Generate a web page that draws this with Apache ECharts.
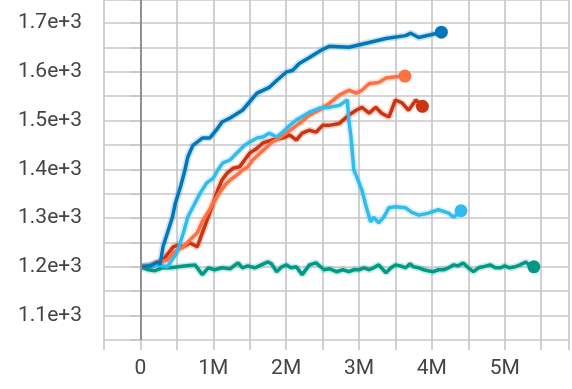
<!DOCTYPE html>
<html><head><meta charset="utf-8">
<script src="https://cdn.jsdelivr.net/npm/echarts@6/dist/echarts.min.js"></script>
<style>html,body{margin:0;padding:0;background:#fff}#c{width:572px;height:389px}</style>
</head><body><div id="c"></div>
<script>
// x values in millions of steps, y values
var darkBlueX = [0,0.14,0.23,0.27,0.31,0.44,0.48,0.55,0.61,0.65,0.72,0.85,0.95,1.04,1.12,1.23,1.40,1.60,1.77,1.87,2.00,2.09,2.18,2.32,2.48,2.59,2.86,3.14,3.37,3.64,3.71,3.82,4.13];
var darkBlueY = [1200,1202,1210,1205,1241,1302,1331,1364,1398,1425,1449,1464,1464,1480,1497,1505,1521,1556,1568,1582,1599,1603,1617,1629,1644,1652,1650,1660,1668,1674,1679,1670,1681];

var lightBlueX = [0,0.2,0.37,0.50,0.59,0.65,0.75,0.82,0.91,1.0,1.06,1.13,1.23,1.32,1.43,1.50,1.60,1.68,1.77,1.87,1.95,2.05,2.14,2.32,2.45,2.59,2.73,2.84,2.86,2.89,2.93,2.97,3.04,3.11,3.16,3.20,3.27,3.34,3.41,3.50,3.64,3.72,3.82,3.95,4.09,4.23,4.30,4.40];
var lightBlueY = [1200,1204,1200,1229,1270,1302,1331,1351,1372,1382,1398,1413,1419,1433,1449,1456,1464,1466,1474,1466,1476,1490,1501,1517,1525,1527,1531,1542,1501,1466,1398,1384,1357,1317,1292,1302,1290,1302,1321,1323,1321,1312,1306,1310,1317,1310,1302,1315];

var orangeX = [0,0.04,0.23,0.37,0.45,0.59,0.68,0.78,0.86,0.95,1.02,1.09,1.16,1.23,1.32,1.40,1.47,1.54,1.64,1.73,1.81,1.91,2.00,2.09,2.18,2.32,2.45,2.59,2.73,2.86,2.96,3.04,3.14,3.27,3.37,3.48,3.63];
var orangeY = [1200,1200,1208,1214,1229,1241,1255,1270,1296,1317,1337,1353,1368,1378,1388,1398,1405,1419,1433,1445,1456,1464,1474,1484,1494,1511,1521,1535,1552,1562,1556,1562,1576,1578,1587,1589,1591];

var redX = [0,0.14,0.31,0.45,0.52,0.59,0.68,0.78,0.85,0.93,1.0,1.06,1.12,1.19,1.27,1.36,1.43,1.50,1.60,1.68,1.81,1.95,2.05,2.14,2.22,2.32,2.41,2.50,2.59,2.73,2.86,2.96,3.04,3.14,3.23,3.31,3.41,3.50,3.59,3.68,3.78,3.87];
var redY = [1200,1202,1214,1241,1245,1241,1249,1241,1270,1302,1331,1357,1378,1392,1402,1405,1419,1433,1443,1454,1460,1464,1470,1460,1474,1480,1476,1490,1490,1494,1511,1521,1527,1515,1527,1515,1507,1542,1536,1521,1542,1529];

var tealX = [0,0.11,0.20,0.30,0.41,0.52,0.63,0.75,0.85,0.93,1.02,1.12,1.23,1.34,1.40,1.47,1.57,1.66,1.75,1.80,1.87,1.94,2.00,2.07,2.14,2.22,2.32,2.41,2.52,2.60,2.69,2.78,2.86,2.93,3.00,3.07,3.14,3.20,3.27,3.37,3.44,3.50,3.57,3.64,3.70,3.75,3.82,3.89,3.95,4.02,4.09,4.16,4.23,4.30,4.36,4.43,4.50,4.57,4.64,4.70,4.80,4.87,4.94,5.00,5.07,5.14,5.21,5.29,5.33,5.40];
var tealY = [1200,1194,1192,1198,1198,1200,1202,1204,1184,1198,1194,1198,1196,1208,1198,1202,1198,1204,1210,1206,1190,1200,1204,1198,1200,1184,1204,1208,1194,1196,1190,1194,1190,1194,1194,1198,1194,1198,1204,1188,1198,1204,1202,1198,1206,1200,1198,1194,1192,1190,1194,1194,1198,1204,1202,1208,1198,1190,1198,1200,1204,1198,1198,1202,1198,1200,1204,1210,1204,1200];

var yTickLabels = ['1.1e+3','1.2e+3','1.3e+3','1.4e+3','1.5e+3','1.6e+3','1.7e+3'];
var xTickLabels = ['0','1M','2M','3M','4M','5M'];

function zip(xs, ys){ return xs.map(function(x,i){ return [x, ys[i]]; }); }

var defs = [
  {name:'teal', x:tealX, y:tealY, color:'#009988'},
  {name:'red', x:redX, y:redY, color:'#cc3311'},
  {name:'orange', x:orangeX, y:orangeY, color:'#ff7043'},
  {name:'lightblue', x:lightBlueX, y:lightBlueY, color:'#33bbee'},
  {name:'darkblue', x:darkBlueX, y:darkBlueY, color:'#0077bb'}
];

var series = [];
defs.forEach(function(d){
  var data = zip(d.x, d.y);
  series.push({type:'line', data:data, symbol:'none', silent:true, z:2,
    lineStyle:{color:d.color, width:7, opacity:0.2}});
  series.push({type:'line', data:data, symbol:'none', silent:true, z:3,
    lineStyle:{color:d.color, width:3.5}});
  series.push({type:'scatter', data:[data[data.length-1]], symbol:'circle', symbolSize:13, z:4,
    itemStyle:{color:d.color, opacity:1}});
});
series[0].markLine = {silent:true, symbol:'none', label:{show:false},
  lineStyle:{color:'#8f8f8f', width:2, type:'solid'}, data:[{xAxis:0}]};

var grid = '#c8c8c8';
var chart = echarts.init(document.getElementById('c'), null, {renderer:'canvas'});
chart.setOption({
  animation:false,
  grid:{left:104, right:0, top:0, bottom:49, containLabel:false},
  xAxis:{type:'value', min:-0.5, max:5.882, interval:0.5,
    axisLine:{show:false},
    axisTick:{show:true, length:10, lineStyle:{color:grid, width:1.7}},
    splitLine:{show:true, lineStyle:{color:grid, width:1.7}},
    axisLabel:{margin:18, color:'#444', fontSize:21, fontFamily:'Roboto',
      formatter:function(v){ var r=Math.round(v*10)/10; if(r>=0 && r%1===0){return xTickLabels[r]||'';} return ''; }}},
  yAxis:{type:'value', min:1050, max:1747, interval:50,
    axisLine:{show:false},
    axisTick:{show:true, length:10, lineStyle:{color:grid, width:1.7}},
    splitLine:{show:true, lineStyle:{color:grid, width:1.7}},
    axisLabel:{margin:22, color:'#444', fontSize:21, fontFamily:'Roboto',
      formatter:function(v){ var r=Math.round(v); if(r%100===0){ return yTickLabels[(r-1100)/100]||''; } return ''; }}},
  series:series
});
</script></body></html>
